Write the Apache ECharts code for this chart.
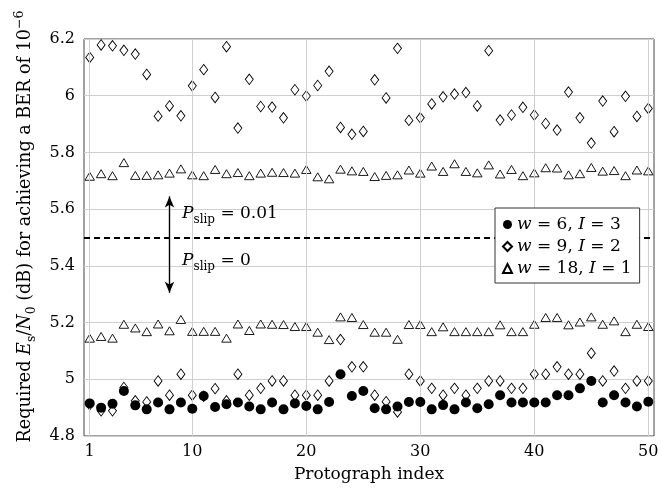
<!DOCTYPE html>
<html><head><meta charset="utf-8">
<script src="https://cdn.jsdelivr.net/npm/echarts@6/dist/echarts.min.js"></script>
<style>html,body{margin:0;padding:0;background:#fff}#c{width:669px;height:496px}</style>
</head><body><div id="c"></div>
<script>
const idx = [1,2,3,4,5,6,7,8,9,10,11,12,13,14,15,16,17,18,19,20,21,22,23,24,25,26,27,28,29,30,31,32,33,34,35,36,37,38,39,40,41,42,43,44,45,46,47,48,49,50];
const xTicks = [1,10,20,30,40,50];
// w = 6, I = 3 (P_slip = 0)
const w6_p0 = [4.915,4.9,4.914,4.959,4.908,4.894,4.918,4.894,4.918,4.896,4.941,4.902,4.912,4.918,4.904,4.894,4.918,4.894,4.915,4.906,4.894,4.92,5.018,4.941,4.959,4.898,4.894,4.904,4.92,4.92,4.894,4.909,4.894,4.918,4.898,4.912,4.944,4.918,4.918,4.918,4.918,4.944,4.944,4.968,4.994,4.918,4.944,4.918,4.904,4.921];
// w = 9, I = 2
const w9_p001 = [6.135,6.179,6.176,6.16,6.147,6.075,5.928,5.964,5.929,6.035,6.092,5.994,6.173,5.886,6.058,5.962,5.96,5.922,6.021,5.999,6.036,6.086,5.888,5.864,5.874,6.056,5.992,6.167,5.913,5.922,5.971,5.996,6.006,6.011,5.964,6.159,5.914,5.932,5.959,5.932,5.902,5.879,6.013,5.922,5.833,5.981,5.873,5.998,5.927,5.955];
const w9_p0 = [4.91,4.889,4.889,4.971,4.924,4.92,4.994,4.944,5.018,4.944,4.94,4.967,4.924,5.018,4.944,4.968,4.994,4.994,4.944,4.944,4.944,4.994,5.14,5.044,5.044,4.944,4.921,4.885,5.018,4.994,4.968,4.944,4.968,4.944,4.968,4.994,4.994,4.968,4.968,5.018,5.018,5.044,5.018,5.018,5.092,4.994,5.029,4.968,4.994,4.994];
// w = 18, I = 1
const w18_p001 = [5.716,5.725,5.718,5.764,5.719,5.719,5.721,5.727,5.742,5.721,5.718,5.74,5.725,5.729,5.718,5.727,5.73,5.729,5.727,5.74,5.714,5.707,5.741,5.735,5.733,5.715,5.719,5.721,5.738,5.727,5.752,5.733,5.76,5.733,5.728,5.756,5.724,5.74,5.718,5.728,5.746,5.745,5.721,5.725,5.747,5.734,5.736,5.718,5.738,5.735];
const w18_p0 = [5.145,5.151,5.145,5.194,5.181,5.168,5.195,5.171,5.211,5.169,5.169,5.169,5.145,5.195,5.172,5.195,5.194,5.193,5.186,5.186,5.166,5.14,5.22,5.218,5.193,5.166,5.166,5.141,5.193,5.193,5.168,5.185,5.168,5.168,5.168,5.168,5.192,5.168,5.168,5.194,5.218,5.218,5.192,5.202,5.22,5.194,5.206,5.168,5.194,5.186];
const threshold = 5.5;
const arrowX = 8, arrowLow = 5.305, arrowHigh = 5.645;

const FONT = 'DejaVu Serif';
const pairs = arr => idx.map((x, i) => [x, arr[i]]);

const chart = echarts.init(document.getElementById('c'), null, {renderer: 'canvas'});
const mkRich = (fs, lh, sfs) => ({
  t: {fontFamily: FONT, fontSize: fs, color: '#000', lineHeight: lh, verticalAlign: 'middle'},
  i: {fontFamily: FONT, fontSize: fs, color: '#000', lineHeight: lh, verticalAlign: 'middle', fontStyle: 'italic'},
  sub: {fontFamily: FONT, fontSize: sfs, color: '#000', lineHeight: sfs, verticalAlign: 'bottom'},
  sup: {fontFamily: FONT, fontSize: sfs, color: '#000', lineHeight: sfs, verticalAlign: 'top'}
});
const richAnn = mkRich(17, 24, 12);
const richTitle = mkRich(17.6, 25, 12.5);

const diamondStyle = {color: '#fff', borderColor: '#000', borderWidth: 0.9, opacity: 1};
const triStyle = {color: '#fff', borderColor: '#000', borderWidth: 0.9, opacity: 1};

const option = {
  animation: false,
  backgroundColor: '#fff',
  grid: {left: 84, right: 15, top: 39, bottom: 60, show: true, borderColor: '#444', borderWidth: 1, backgroundColor: 'transparent'},
  xAxis: {
    type: 'value', min: 0.5, max: 50.5,
    name: 'Protograph index', nameLocation: 'middle', nameGap: 30,
    nameTextStyle: {fontFamily: FONT, fontSize: 17, color: '#000'},
    axisLine: {show: false}, axisTick: {show: false}, splitLine: {show: false},
    axisLabel: {customValues: xTicks, fontFamily: FONT, fontSize: 16, color: '#000', margin: 8, showMinLabel: true, showMaxLabel: true}
  },
  yAxis: {
    type: 'value', min: 4.8, max: 6.2, interval: 0.2,
    name: '{t|Required }{i|E}{sub|s}{t|/}{i|N}{sub|0}{t| (dB) for achieving a BER of 10}{sup|−6}',
    nameLocation: 'middle', nameGap: 46, nameRotate: 90,
    nameTextStyle: {rich: richTitle, padding: [0, 0, 0, 22]},
    axisLine: {show: false}, axisTick: {show: false},
    splitLine: {show: true, lineStyle: {color: '#cfcfcf', width: 1}},
    axisLabel: {fontFamily: FONT, fontSize: 16, color: '#000', margin: 9,
      formatter: v => String(+v.toFixed(1))}
  },
  legend: {
    z: 50, zlevel: 0,
    left: 495, top: 208, orient: 'vertical',
    backgroundColor: '#fff', borderColor: '#333', borderWidth: 1, borderRadius: 0,
    padding: [8, 8, 6, 7], itemGap: 5, itemWidth: 9, itemHeight: 9,
    data: [{name: 'w6', icon: 'circle'}, {name: 'w9', icon: 'diamond'}, {name: 'w18', icon: 'triangle'}],
    formatter: n => ({w6: '{i|w}{t| = 6, }{i|I}{t| = 3}', w9: '{i|w}{t| = 9, }{i|I}{t| = 2}', w18: '{i|w}{t| = 18, }{i|I}{t| = 1}'}[n]),
    textStyle: {rich: {
      t: {fontFamily: FONT, fontSize: 17, color: '#000', lineHeight: 20},
      i: {fontFamily: FONT, fontSize: 17, color: '#000', lineHeight: 20, fontStyle: 'italic'}
    }}
  },
  series: [
    {
      name: 'gridx', type: 'scatter', data: [], z: 1, silent: true,
      markLine: {silent: true, symbol: 'none', label: {show: false}, animation: false,
        lineStyle: {color: '#cfcfcf', width: 1, type: 'solid'},
        data: xTicks.map(v => ({xAxis: v}))}
    },
    {
      name: 'thr', type: 'scatter', data: [], z: 3, silent: true,
      markLine: {silent: true, symbol: 'none', label: {show: false}, animation: false,
        lineStyle: {color: '#000', width: 2, type: [6, 4]},
        data: [{yAxis: threshold}]}
    },
    {
      name: 'arrow', type: 'scatter', data: [], z: 3, silent: true,
      markLine: {silent: true, symbol: ['arrow', 'arrow'], symbolSize: [7, 11], label: {show: false}, animation: false,
        lineStyle: {color: '#000', width: 1.4, type: 'solid'},
        data: [[{coord: [arrowX, arrowLow]}, {coord: [arrowX, arrowHigh]}]]},
      markPoint: {silent: true, symbol: 'circle', symbolSize: 0, animation: false,
        label: {show: true, position: 'right', distance: 0, rich: richAnn},
        data: [
          {coord: [9.1, 5.583], label: {formatter: '{i|P}{sub|slip}{t| = 0.01}'}},
          {coord: [9.1, 5.417], label: {formatter: '{i|P}{sub|slip}{t| = 0}'}}
        ]}
    },
    {name: 'w9', type: 'scatter', z: 4, symbol: 'diamond', symbolSize: [8, 10.5], itemStyle: diamondStyle, data: pairs(w9_p001)},
    {name: 'w9', type: 'scatter', z: 4, symbol: 'diamond', symbolSize: [8, 10.5], itemStyle: diamondStyle, data: pairs(w9_p0)},
    {name: 'w18', type: 'scatter', z: 4, symbol: 'triangle', symbolSize: [9.5, 8], itemStyle: triStyle, data: pairs(w18_p001)},
    {name: 'w18', type: 'scatter', z: 4, symbol: 'triangle', symbolSize: [9.5, 8], itemStyle: triStyle, data: pairs(w18_p0)},
    {name: 'w6', type: 'scatter', z: 5, symbol: 'circle', symbolSize: 10, itemStyle: {color: '#000', borderColor: '#000', borderWidth: 0, opacity: 1}, data: pairs(w6_p0)}
  ]
};
chart.setOption(option);
</script></body></html>
